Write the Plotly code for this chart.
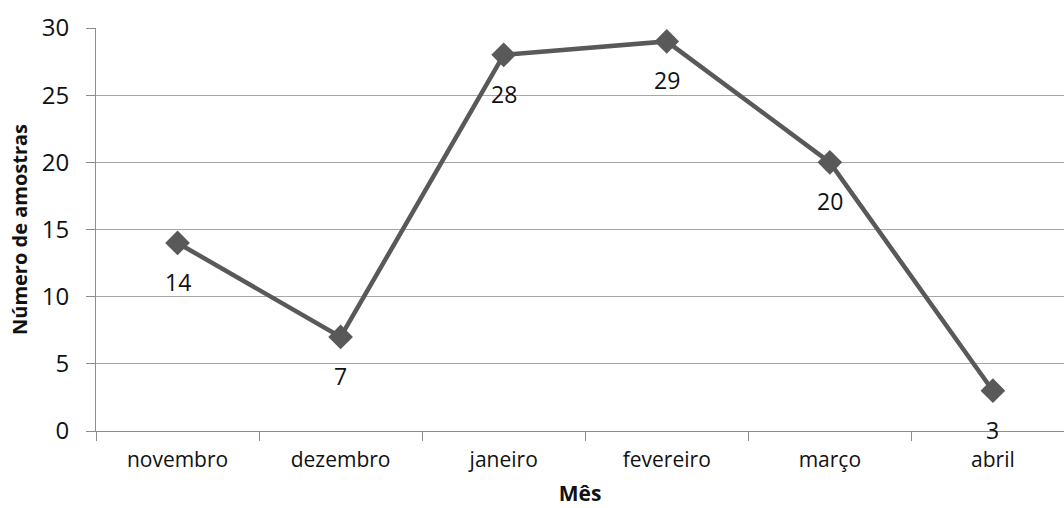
import plotly.graph_objects as go

# Monthly sample counts
meses = ["novembro", "dezembro", "janeiro", "fevereiro", "março", "abril"]
amostras = [14, 7, 28, 29, 20, 3]
y_ticks = [0, 5, 10, 15, 20, 25, 30]

FONT = "Open Sans, DejaVu Sans, sans-serif"
LINE = "#595959"
AXIS = "#8c8c8c"
TEXT = "#111111"

fig = go.Figure()
fig.add_trace(go.Scatter(
    x=meses,
    y=amostras,
    mode="lines+markers",
    line=dict(color=LINE, width=4.5),
    marker=dict(symbol="diamond", size=19, color=LINE),
    cliponaxis=False,
    showlegend=False,
))

# value labels sit a little below each marker
for mes, v in zip(meses, amostras):
    fig.add_annotation(
        x=mes, y=v, text=str(v), showarrow=False,
        yshift=-39, font=dict(family=FONT, size=23, color=TEXT),
    )

fig.update_layout(
    width=1064,
    height=508,
    margin=dict(l=96, r=0, t=28, b=77),
    paper_bgcolor="white",
    plot_bgcolor="white",
    font=dict(family=FONT, color=TEXT),
    xaxis=dict(
        type="category",
        categoryorder="array",
        categoryarray=meses,
        range=[-0.5, 5.436],
        tickson="boundaries",
        ticks="outside",
        ticklen=9,
        tickcolor=AXIS,
        showgrid=False,
        showline=True,
        linecolor=AXIS,
        linewidth=1,
        ticklabelstandoff=10,
        tickfont=dict(size=21, family=FONT, color=TEXT),
        title=dict(text="<b>Mês</b>", font=dict(size=21, family=FONT), standoff=14),
    ),
    yaxis=dict(
        range=[0, 30],
        tickmode="array",
        tickvals=y_ticks,
        ticks="outside",
        ticklen=9,
        tickcolor=AXIS,
        showgrid=True,
        gridcolor="#a6a6a6",
        gridwidth=1,
        showline=True,
        linecolor=AXIS,
        linewidth=1,
        zeroline=False,
        ticklabelstandoff=12,
        tickfont=dict(size=24, family=FONT, color=TEXT),
        title=dict(text="<b>Número de amostras</b>", font=dict(size=20, family=FONT), standoff=8),
    ),
)

fig.write_html("out.html")
